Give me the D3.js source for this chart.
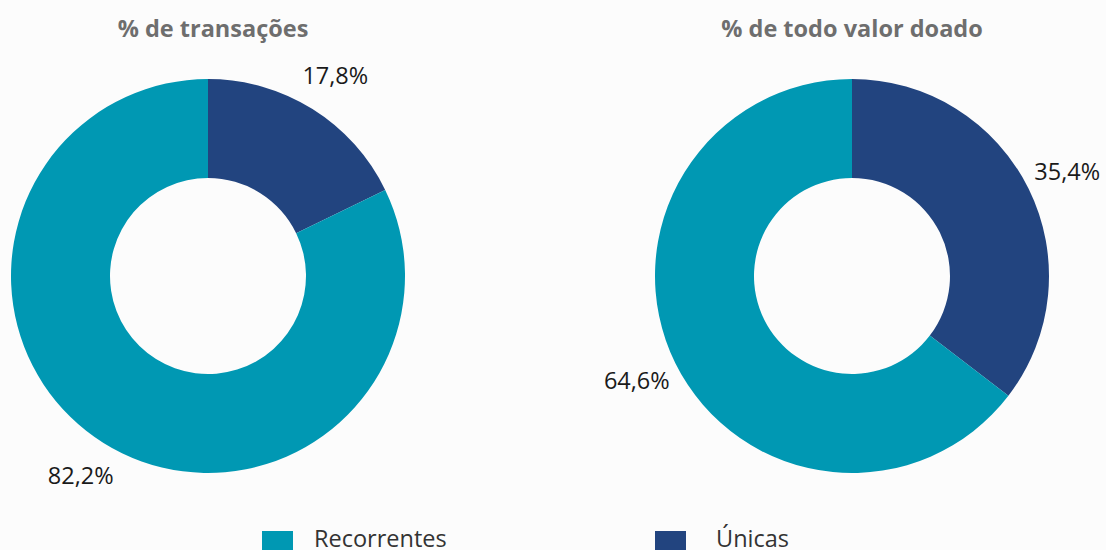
<!DOCTYPE html>
<html><head><meta charset="utf-8">
<script src="https://cdn.jsdelivr.net/npm/d3@7"></script>
<style>
html,body{margin:0;padding:0;background:#fcfcfc;}
svg{display:block;font-family:"Open Sans","Noto Sans",sans-serif;}
</style></head><body>
<svg id="c" width="1106" height="550"></svg>
<script>
const categories = ["Únicas", "Recorrentes"];
const chartTitles = ["% de transações", "% de todo valor doado"];
const transacoes = [17.8, 82.2];
const valorDoado = [35.4, 64.6];
const legendLabels = ["Recorrentes", "Únicas"];
const colors = {"Únicas": "#22447f", "Recorrentes": "#0098b3"};

const svg = d3.select("#c");
const fmt = v => d3.format(".1f")(v).replace(".", ",") + "%";
const outerR = 197, innerR = 98, labelRx = 240, labelRy = 236;
const pie = d3.pie().sort(null).value(d => d.v);
const arc = d3.arc().innerRadius(innerR).outerRadius(outerR);

const panels = [
  {title: chartTitles[0], values: transacoes, cx: 208, tx: 213},
  {title: chartTitles[1], values: valorDoado, cx: 852, tx: 852}
];
panels.forEach(p => {
  svg.append("text").attr("x", p.tx).attr("y", 37).attr("text-anchor", "middle")
    .attr("font-size", 23.5).attr("font-weight", "bold").attr("fill", "#6e6e6e").text(p.title);
  const g = svg.append("g").attr("transform", `translate(${p.cx},276)`);
  const data = pie(categories.map((c, i) => ({c, v: p.values[i]})));
  g.selectAll("path").data(data).join("path").attr("d", arc).attr("fill", d => colors[d.data.c]);
  g.selectAll("text").data(data).join("text")
    .attr("x", d => Math.sin((d.startAngle + d.endAngle) / 2) * labelRx)
    .attr("y", d => -Math.cos((d.startAngle + d.endAngle) / 2) * labelRy)
    .attr("dy", "0.35em").attr("text-anchor", "middle")
    .attr("font-size", 23.5).attr("fill", "#1a1a1a").text(d => fmt(d.data.v));
});

const legX = [262, 655], legTX = [314, 716];
legendLabels.forEach((l, i) => {
  svg.append("rect").attr("x", legX[i]).attr("y", 531).attr("width", 31).attr("height", 19).attr("fill", colors[l]);
  svg.append("text").attr("x", legTX[i]).attr("y", 547).attr("font-size", 23.5).attr("fill", "#333").text(l);
});
</script></body></html>
